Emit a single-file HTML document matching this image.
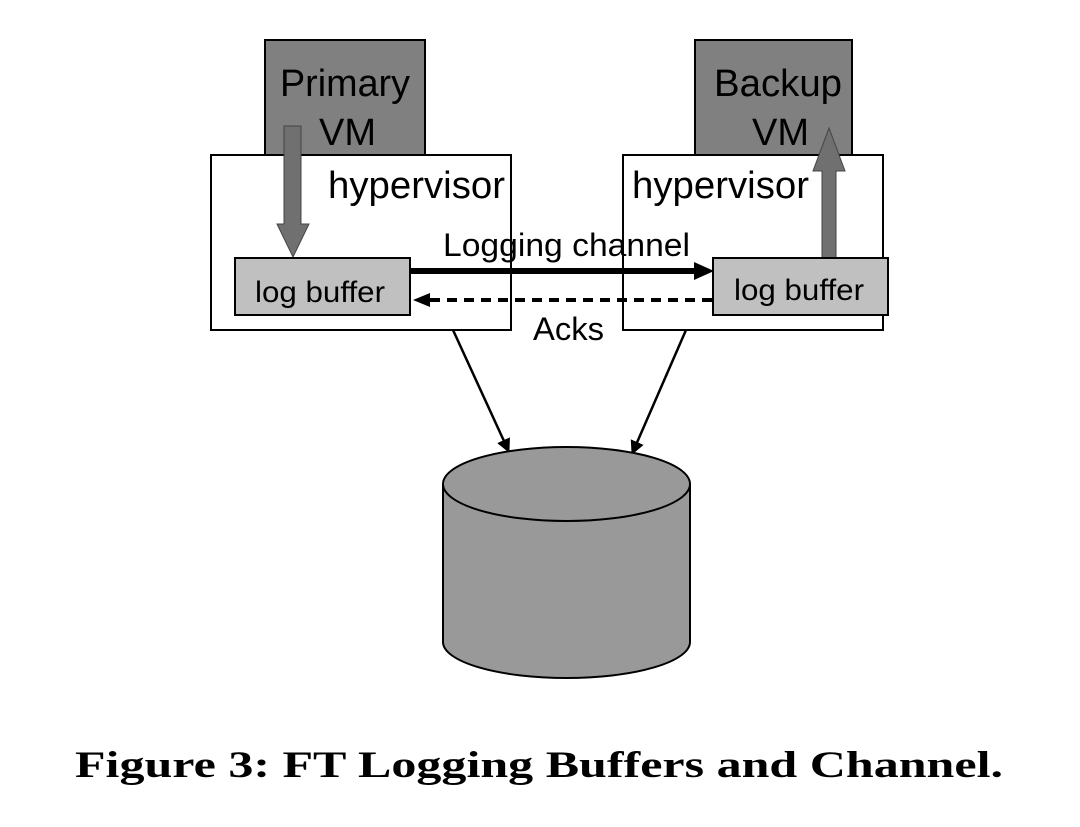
<!DOCTYPE html>
<html><head><style>
html,body{margin:0;padding:0;background:#fff;width:1080px;height:827px;overflow:hidden}
</style></head><body>
<svg width="1080" height="827" viewBox="0 0 1080 827" xmlns="http://www.w3.org/2000/svg" font-family="Liberation Sans, sans-serif">
<defs>
<marker id="ah" markerWidth="14" markerHeight="14" refX="13" refY="7" orient="auto" markerUnits="userSpaceOnUse"><path d="M0,0 L14,7 L0,14 z" fill="#000"/></marker>
</defs>
<rect x="265" y="40" width="160" height="115" fill="#808080" stroke="#000" stroke-width="2"/>
<rect x="695" y="40" width="157" height="115" fill="#808080" stroke="#000" stroke-width="2"/>
<rect x="211" y="155" width="300" height="175" fill="#fff" stroke="#000" stroke-width="2"/>
<rect x="623" y="155" width="260" height="175" fill="#fff" stroke="#000" stroke-width="2"/>
<text x="280" y="96" font-size="38" textLength="130" lengthAdjust="spacingAndGlyphs">Primary</text>
<text x="319" y="145" font-size="38">VM</text>
<text x="714" y="96" font-size="38" textLength="128" lengthAdjust="spacingAndGlyphs">Backup</text>
<text x="752" y="145" font-size="38">VM</text>
<text x="328" y="198" font-size="38" textLength="177" lengthAdjust="spacingAndGlyphs">hypervisor</text>
<text x="632" y="198" font-size="38" textLength="177" lengthAdjust="spacingAndGlyphs">hypervisor</text>
<path d="M284,126 H301 V224 H309 L293,257 L277,224 H284 Z" fill="#707070" stroke="#444" stroke-width="1"/>
<path d="M822,258 V171 H813 L829,128 L845,171 H836 V258 Z" fill="#707070" stroke="#444" stroke-width="1"/>
<rect x="235" y="258" width="175" height="57" fill="#c0c0c0" stroke="#000" stroke-width="2"/>
<rect x="713" y="258" width="175" height="57" fill="#c0c0c0" stroke="#000" stroke-width="2"/>
<text x="255" y="302" font-size="30" textLength="130" lengthAdjust="spacingAndGlyphs">log buffer</text>
<text x="734" y="300" font-size="30" textLength="130" lengthAdjust="spacingAndGlyphs">log buffer</text>
<line x1="411" y1="271" x2="696" y2="271" stroke="#000" stroke-width="6"/>
<path d="M694,262 L714,271 L694,280 Z" fill="#000"/>
<line x1="712" y1="300" x2="430" y2="300" stroke="#000" stroke-width="4" stroke-dasharray="10,7"/>
<path d="M430,293 L413,300 L430,307 Z" fill="#000"/>
<text x="443" y="256" font-size="32" textLength="247" lengthAdjust="spacingAndGlyphs">Logging channel</text>
<text x="533" y="340" font-size="32" textLength="71" lengthAdjust="spacingAndGlyphs">Acks</text>
<line x1="453" y1="330" x2="509" y2="452" stroke="#000" stroke-width="2.5" marker-end="url(#ah)"/>
<line x1="686" y1="330" x2="632" y2="454" stroke="#000" stroke-width="2.5" marker-end="url(#ah)"/>
<path d="M443,484 V642 A123.5,36 0 0 0 690,642 V484" fill="#999" stroke="#000" stroke-width="2"/>
<ellipse cx="566.5" cy="484" rx="123.5" ry="37" fill="#999" stroke="#000" stroke-width="2"/>
<text x="75" y="777" font-size="37" font-weight="bold" textLength="928" lengthAdjust="spacingAndGlyphs" font-family="Liberation Serif, serif">Figure 3: FT Logging Buffers and Channel.</text>
</svg>
</body></html>
